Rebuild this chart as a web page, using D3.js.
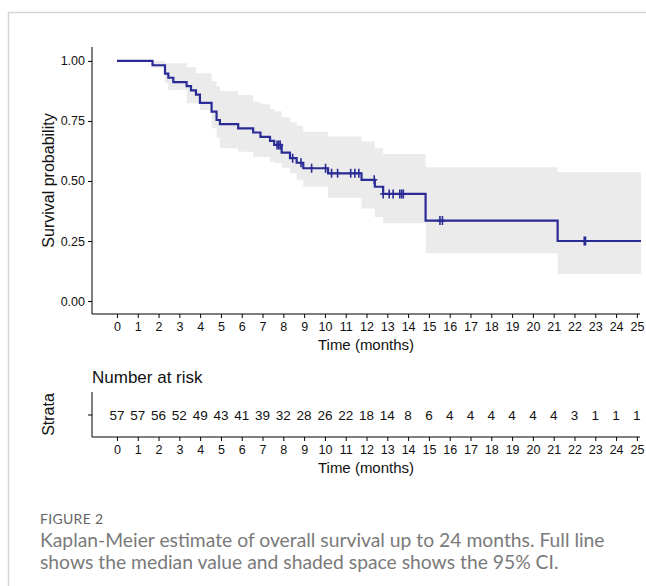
<!DOCTYPE html>
<html><head><meta charset="utf-8">
<script src="https://cdn.jsdelivr.net/npm/d3@7"></script>
<style>
html,body{margin:0;padding:0;background:#fff;}
svg{display:block;}
</style></head>
<body>
<svg id="c" width="646" height="586" font-family="Liberation Sans, Arial, sans-serif"></svg>
<script>
// ---- data ----
const stepTimes = [0,1.71,2.31,2.47,2.71,3.35,3.56,3.80,3.99,4.55,4.79,4.95,5.83,6.55,6.9,7.36,7.56,7.92,8.32,8.64,8.96,10.15,11.76,12.4,12.8,14.84,21.19,25.2];
const survival  = [1,.982,.947,.930,.912,.895,.877,.860,.825,.789,.754,.737,.719,.702,.684,.667,.65,.618,.595,.576,.553,.532,.505,.476,.446,.335,.25,.25];
const upperCI   = [1,1.0,.99,.99,.99,.974,.974,.949,.949,.915,.895,.875,.858,.83,.82,.80,.79,.765,.745,.73,.705,.685,.664,.636,.612,.557,.536,.536];
const lowerCI   = [1,.972,.907,.879,.879,.824,.824,.824,.796,.72,.68,.636,.622,.60,.60,.58,.575,.555,.532,.505,.476,.43,.385,.35,.324,.199,.1125,.1125];
const censorTimes = [7.7,7.78,7.85,8.45,8.85,9.36,10.03,10.32,10.61,11.24,11.44,11.63,12.37,12.8,13.09,13.28,13.6,13.69,13.77,15.53,15.65,22.47,22.53];
const riskTimes = d3.range(0,26);
const numberAtRisk = [57,57,56,52,49,43,41,39,32,28,26,22,18,14,8,6,4,4,4,4,4,4,3,1,1,1];
const yTicks = [0,0.25,0.5,0.75,1];
const caption = ["Kaplan-Meier estimate of overall survival up to 24 months. Full line",
                 "shows the median value and shaded space shows the 95% CI."];

const svg = d3.select("#c");
const AF = "Liberation Sans, Arial, sans-serif";
// frame
svg.append("line").attr("x1",8).attr("x2",646).attr("y1",12.5).attr("y2",12.5).attr("stroke","#d6d6d6").attr("stroke-width",1.5);
svg.append("line").attr("x1",8.5).attr("x2",8.5).attr("y1",12).attr("y2",586).attr("stroke","#d6d6d6").attr("stroke-width",1.5);

const x = d3.scaleLinear().domain([-1.2,25.15]).range([92,640]);
const y = d3.scaleLinear().domain([-0.054,1.058]).range([314,47]);

const pts = stepTimes.map((t,i)=>({t,s:survival[i],u:upperCI[i],l:lowerCI[i]}));
const sf = s=>{ let v=1; for(let i=0;i<stepTimes.length;i++){ if(stepTimes[i]<=s) v=survival[i]; } return v; };

// band
svg.append("path").datum(pts)
  .attr("d", d3.area().curve(d3.curveStepAfter).x(d=>x(d.t)).y0(d=>y(d.l)).y1(d=>y(d.u)))
  .attr("fill","#ebebeb");
// line
svg.append("path").datum(pts)
  .attr("d", d3.line().curve(d3.curveStepAfter).x(d=>x(d.t)).y(d=>y(d.s)))
  .attr("fill","none").attr("stroke","#2b2b96").attr("stroke-width",2.2);
// censors
svg.append("g").selectAll("path").data(censorTimes).join("path")
  .attr("d", t=>{const cx=x(t), cy=y(sf(t)); return `M${cx},${cy-4.5}V${cy+4.5}M${cx-3},${cy}H${cx+3}`;})
  .attr("stroke","#2b2b96").attr("stroke-width",1.6).attr("fill","none");

// axes
const fs = 12.5;
const yAx = svg.append("g").attr("transform","translate(92,0)")
  .call(d3.axisLeft(y).tickValues(yTicks).tickFormat(d3.format(".2f")).tickSize(4).tickPadding(3));
const xAx = svg.append("g").attr("transform","translate(0,314)")
  .call(d3.axisBottom(x).tickValues(riskTimes).tickFormat(d3.format("d")).tickSize(4).tickPadding(4));
[yAx,xAx].forEach(g=>{
  g.select(".domain").attr("d", g===yAx? "M0,47V314":"M92,0H640").attr("stroke","#000");
  g.selectAll("text").attr("font-size",fs).attr("fill","#111").attr("font-family",AF);
  g.selectAll(".tick line").attr("stroke","#000");
});
svg.append("text").attr("transform","translate(54,180.5) rotate(-90)").attr("text-anchor","middle")
  .attr("font-size",16).attr("fill","#111").text("Survival probability");
svg.append("text").attr("x",366).attr("y",350).attr("text-anchor","middle").attr("font-size",15).attr("fill","#111").text("Time (months)");

// risk table
svg.append("text").attr("x",92).attr("y",383).attr("font-size",17).attr("fill","#111").text("Number at risk");
const yr = d3.scalePoint().domain(["All"]).range([392,437]).padding(0.5);
const ryAx = svg.append("g").attr("transform","translate(92,0)").call(d3.axisLeft(yr).tickSize(4).tickFormat(""));
ryAx.select(".domain").attr("d","M0,392V437").attr("stroke","#000");
ryAx.selectAll(".tick line").attr("stroke","#000");
const rxAx = svg.append("g").attr("transform","translate(0,437)")
  .call(d3.axisBottom(x).tickValues(riskTimes).tickFormat(d3.format("d")).tickSize(4).tickPadding(4));
rxAx.select(".domain").attr("d","M92,0H640").attr("stroke","#000");
rxAx.selectAll(".tick line").attr("stroke","#000");
rxAx.selectAll("text").attr("font-size",fs).attr("fill","#111").attr("font-family",AF);
svg.append("g").selectAll("text").data(riskTimes).join("text")
  .attr("x",t=>x(t)).attr("y",yr("All")+5).attr("text-anchor","middle").attr("font-size",13.5).attr("fill","#111")
  .text((t,i)=>numberAtRisk[i]);
svg.append("text").attr("transform",`translate(54,${yr("All")}) rotate(-90)`).attr("text-anchor","middle")
  .attr("font-size",16).attr("fill","#111").text("Strata");
svg.append("text").attr("x",366).attr("y",473).attr("text-anchor","middle").attr("font-size",15).attr("fill","#111").text("Time (months)");

// caption
const CF = "Lato, 'Open Sans', sans-serif";
svg.append("text").attr("x",40).attr("y",524).style("font-family",CF)
  .attr("font-size",14).attr("fill","#666").attr("letter-spacing",0.3).text("FIGURE 2");
let capScale = 1;
caption.forEach((c,i)=>{
  const t = svg.append("text").attr("x",40).attr("y",547+i*21.5).style("font-family",CF)
    .attr("font-size",17).attr("fill","#7a7a7a").text(c);
  if(i===0){ const w=t.node().getComputedTextLength(); capScale=565/w; }
  t.attr("font-size",17*capScale);
});
</script>
</body></html>
